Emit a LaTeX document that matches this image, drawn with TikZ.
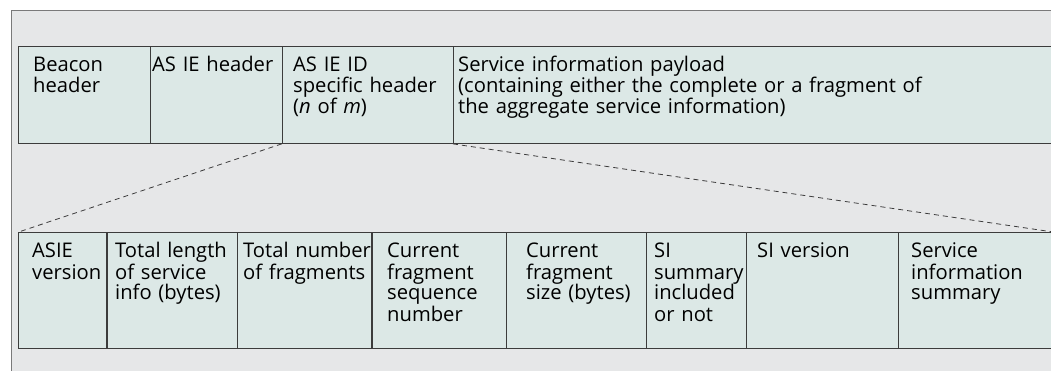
\documentclass[tikz,border=0pt]{standalone}
\usepackage{fontspec}
\setmainfont{Open Sans}
\definecolor{bgc}{HTML}{E6E7E8}
\definecolor{boxc}{HTML}{DCE8E6}
\definecolor{framec}{HTML}{7A7A7A}
\definecolor{edgec}{HTML}{3C3C3C}
\begin{document}
\begin{tikzpicture}[x=1pt,y=-1pt,
  field/.style={draw=edgec,fill=boxc,line width=1.2pt,rectangle,inner sep=0pt,anchor=north west},
  toprow/.style={field,minimum height=97pt},
  botrow/.style={field,minimum height=115.5pt},
  lbl/.style={anchor=base west,inner sep=0pt,text width=560pt,align=left,
    font=\fontsize{20.2}{21}\selectfont},
  zoomline/.style={draw=edgec,line width=0.8pt,dash pattern=on 5pt off 4pt}]
\useasboundingbox (0,0) rectangle (1051,371);
\clip (0,0) rectangle (1051,371);
\draw[framec,fill=bgc,line width=1.6pt] (11.5,10.5) rectangle (1080,400);
% top row
\node[toprow,minimum width=132pt] (bh) at (17.7,45.7) {};
\node[toprow,minimum width=132pt] (ash) at (149.7,45.7) {};
\node[toprow,minimum width=171.3pt] (idh) at (281.7,45.7) {};
\node[toprow,minimum width=601pt] (pay) at (453,45.7) {};
% bottom row
\node[botrow,minimum width=88.6pt] (f1) at (17.7,232.3) {};
\node[botrow,minimum width=130.7pt] (f2) at (106.3,232.3) {};
\node[botrow,minimum width=134.3pt] (f3) at (237,232.3) {};
\node[botrow,minimum width=134.4pt] (f4) at (371.3,232.3) {};
\node[botrow,minimum width=140pt] (f5) at (505.7,232.3) {};
\node[botrow,minimum width=100pt] (f6) at (645.7,232.3) {};
\node[botrow,minimum width=152pt] (f7) at (745.7,232.3) {};
\node[botrow,minimum width=156.3pt] (f8) at (897.7,232.3) {};
% labels top
\node[lbl] (tbh) at (33,72) {Beacon\\header};
\node[lbl] (tash) at (152,72) {AS IE header};
\node[lbl] (tidh) at (293,72) {AS IE ID\\specific header\\(\textit{n} of \textit{m})};
\node[lbl] (tpay) at (458,72) {Service information payload\\(containing either the complete or a fragment of\\the aggregate service information)};
% labels bottom
\node[lbl] (t1) at (32,258) {ASIE\\version};
\node[lbl] (t2) at (115,258) {Total length\\of service\\info (bytes)};
\node[lbl] (t3) at (243,258) {Total number\\of fragments};
\node[lbl] (t4) at (387,258) {Current\\fragment\\sequence\\number};
\node[lbl] (t5) at (526,258) {Current\\fragment\\size (bytes)};
\node[lbl] (t6) at (654,258) {SI\\summary\\included\\or not};
\node[lbl] (t7) at (757,258) {SI version};
\node[lbl] (t8) at (911,258) {Service\\information\\summary};
% zoom lines
\draw[zoomline] (idh.south west) -- (f1.north west);
\draw[zoomline] (pay.south west) -- (f8.north east);
\end{tikzpicture}
\end{document}
